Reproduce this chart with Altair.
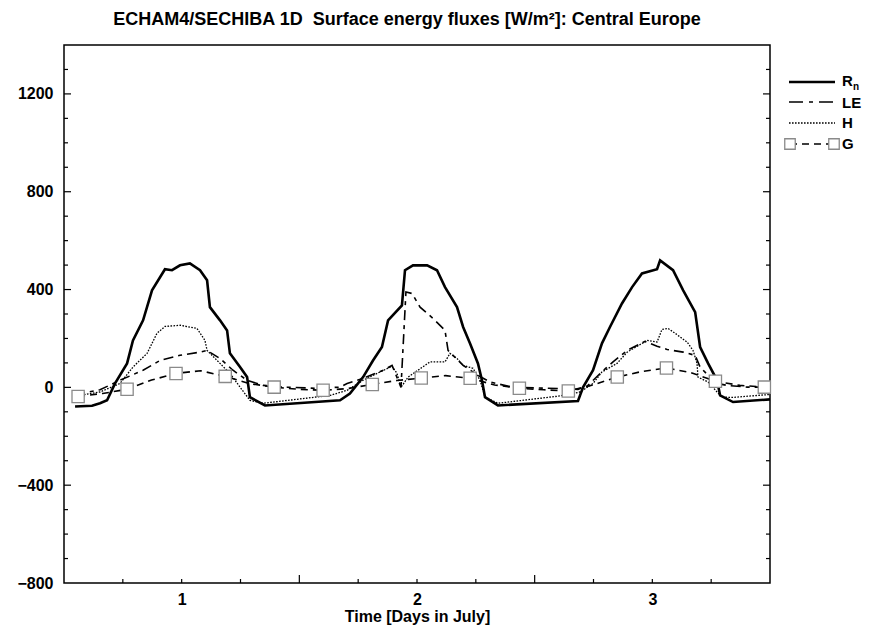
import altair as alt
import pandas as pd

# ---------------- data ----------------
rn_t = [0.547, 0.619, 0.653, 0.683, 0.717, 0.768, 0.793, 0.836, 0.874, 0.929, 0.959, 0.993, 1.035, 1.078,
        1.108, 1.120, 1.163, 1.193, 1.205, 1.248, 1.278, 1.290, 1.354, 1.673, 1.715, 1.771, 1.813, 1.851,
        1.877, 1.936, 1.949, 1.983, 2.043, 2.085, 2.119, 2.170, 2.196, 2.225, 2.259, 2.276, 2.289, 2.344,
        2.684, 2.706, 2.748, 2.786, 2.820, 2.871, 2.914, 2.956, 3.020, 3.033, 3.088, 3.131, 3.182, 3.203,
        3.237, 3.275, 3.288, 3.343, 3.500]
rn_v = [-78, -75, -65, -53, 16, 98, 192, 274, 397, 483, 479, 499, 507, 479,
        438, 328, 274, 233, 139, 83, 42, -40, -74, -53, -25, 42, 110, 165,
        274, 335, 479, 499, 499, 479, 410, 328, 247, 180, 98, 29, -40, -74,
        -56, 1, 70, 180, 247, 343, 410, 466, 483, 519, 479, 397, 308, 165,
        98, 29, -33, -60, -49]

le_t = [0.547, 0.653, 0.738, 0.836, 0.908, 0.993, 1.078, 1.108, 1.163, 1.218, 1.278, 1.346, 1.448, 1.575,
        1.673, 1.703, 1.771, 1.856, 1.894, 1.932, 1.953, 1.979, 2.013, 2.068, 2.119, 2.132, 2.153, 2.196,
        2.259, 2.310, 2.408, 2.608, 2.684, 2.723, 2.778, 2.833, 2.893, 2.969, 3.020, 3.063, 3.131, 3.182,
        3.203, 3.237, 3.275, 3.318, 3.403, 3.500]
le_v = [-30, -10, 29, 70, 110, 131, 144, 151, 118, 70, 29, 8, 1, -4,
        1, 16, 37, 70, 90, 0, 390, 384, 328, 282, 233, 151, 131, 90,
        49, 22, 0, -5, -8, 5, 57, 104, 151, 188, 168, 155, 144, 131,
        83, 49, 16, 8, 1, 1]

h_t = [0.547, 0.653, 0.738, 0.793, 0.853, 0.895, 0.929, 0.993, 1.065, 1.099, 1.108, 1.163, 1.205, 1.248,
       1.290, 1.346, 1.630, 1.703, 1.771, 1.843, 1.894, 1.915, 1.932, 1.962, 2.004, 2.055, 2.119, 2.140,
       2.170, 2.196, 2.238, 2.268, 2.289, 2.344, 2.608, 2.693, 2.748, 2.786, 2.850, 2.893, 2.978, 3.020,
       3.041, 3.067, 3.097, 3.148, 3.173, 3.190, 3.194, 3.237, 3.275, 3.296, 3.343, 3.500]
h_v = [-35, -19, 16, 83, 139, 221, 249, 254, 241, 192, 151, 98, 57, 1,
       -53, -65, -33, -12, 29, 63, 86, 57, 0, 42, 70, 104, 104, 139,
       118, 90, 78, 29, -40, -65, -35, -19, 16, 63, 98, 144, 192, 185,
       237, 241, 221, 185, 151, 98, 42, 22, -19, -40, -41, -29]

g_t = [0.560, 0.664, 0.768, 0.872, 0.976, 1.080, 1.185, 1.289, 1.393, 1.497, 1.601, 1.705, 1.810, 1.914,
       2.018, 2.122, 2.226, 2.330, 2.435, 2.539, 2.643, 2.747, 2.851, 2.955, 3.060, 3.164, 3.268, 3.372, 3.476]
g_v = [-37, -25, -8, 30, 57, 68, 45, 15, 1, -8, -12, -5, 12, 28,
       38, 48, 37, 10, -4, -10, -15, 10, 42, 65, 79, 60, 25, 8, 1]
g_marker = [i % 2 == 0 for i in range(len(g_t))]

y_labels = [-800, -400, 0, 400, 800, 1200]
y_minor = [-700, -600, -500, -300, -200, -100, 100, 200, 300, 500, 600, 700, 900, 1000, 1100, 1300]
y_major = [-400, 0, 400, 800, 1200]
x_labels = [1, 2, 3]
x_minor = [0.75, 1.0, 1.25, 1.75, 2.0, 2.25, 2.75, 3.0, 3.25]
x_major = [1.5, 2.5]

# ---------------- layout constants ----------------
W, H = 706, 538
FONT = "Liberation Sans"

xscale = alt.Scale(domain=[0.5, 3.5], nice=False, zero=False)
yscale = alt.Scale(domain=[-800, 1400], nice=False, zero=False)
xaxis = alt.Axis(values=x_labels, ticks=False, domain=False, grid=False, title="Time [Days in July]",
                 labelFont=FONT, labelFontSize=16, labelFontWeight="bold", labelColor="black",
                 labelPadding=8, titleFont=FONT, titleFontSize=16, titleFontWeight="bold",
                 titleColor="black", titleBaseline="alphabetic", titleY=38, format="d")
yaxis = alt.Axis(values=y_labels, ticks=False, domain=False, grid=False, title=None,
                 labelFont=FONT, labelFontSize=16, labelFontWeight="bold", labelColor="black",
                 labelPadding=11, format="d")


def X():
    return alt.X("t:Q", scale=xscale, axis=xaxis)


def Y():
    return alt.Y("v:Q", scale=yscale, axis=yaxis)


df_rn = pd.DataFrame({"t": rn_t, "v": rn_v})
df_le = pd.DataFrame({"t": le_t, "v": le_v})
df_h = pd.DataFrame({"t": h_t, "v": h_v})
df_g = pd.DataFrame({"t": g_t, "v": g_v, "m": g_marker})

rn_line = alt.Chart(df_rn).mark_line(color="black", strokeWidth=2.6).encode(x=X(), y=Y())
le_line = alt.Chart(df_le).mark_line(color="black", strokeWidth=1.6, strokeDash=[10, 5, 4, 5]).encode(x=X(), y=Y())
h_line = alt.Chart(df_h).mark_line(color="black", strokeWidth=1.3, strokeDash=[1.6, 1.4]).encode(x=X(), y=Y())
g_line = alt.Chart(df_g).mark_line(color="black", strokeWidth=1.6, strokeDash=[7, 5]).encode(x=X(), y=Y())
g_pts = alt.Chart(df_g).transform_filter("datum.m").mark_square(
    size=150, filled=True, fill="white", stroke="#8a8a8a", strokeWidth=1.3, opacity=1
).encode(x=X(), y=Y())

# inward ticks
dym = pd.DataFrame({"v": y_minor})
dyM = pd.DataFrame({"v": y_major})
dxm = pd.DataFrame({"t": x_minor})
dxM = pd.DataFrame({"t": x_major})
tk = dict(color="black", strokeWidth=1.2)
yl_min = alt.Chart(dym).mark_rule(**tk).encode(y=Y(), x=alt.value(0), x2=alt.value(4))
yl_maj = alt.Chart(dyM).mark_rule(**tk).encode(y=Y(), x=alt.value(0), x2=alt.value(7))
yr_min = alt.Chart(dym).mark_rule(**tk).encode(y=Y(), x=alt.value(W - 4), x2=alt.value(W))
yr_maj = alt.Chart(dyM).mark_rule(**tk).encode(y=Y(), x=alt.value(W - 7), x2=alt.value(W))
xb_min = alt.Chart(dxm).mark_rule(**tk).encode(x=X(), y=alt.value(H - 4), y2=alt.value(H))
xb_maj = alt.Chart(dxM).mark_rule(**tk).encode(x=X(), y=alt.value(H - 8), y2=alt.value(H))

# legend (drawn to the right of the plot)
one = pd.DataFrame({"a": [0]})
LX0, LX1, TX = 725, 771, 778
leg_rn = alt.Chart(one).mark_rule(color="black", strokeWidth=2.6).encode(
    x=alt.value(LX0), x2=alt.value(LX1), y=alt.value(37))
leg_le = alt.Chart(one).mark_rule(color="black", strokeWidth=1.6, strokeDash=[14, 6, 4, 6]).encode(
    x=alt.value(LX0), x2=alt.value(LX1), y=alt.value(57))
leg_h = alt.Chart(one).mark_rule(color="black", strokeWidth=1.3, strokeDash=[1.6, 1.4]).encode(
    x=alt.value(LX0), x2=alt.value(LX1), y=alt.value(78))
leg_g = alt.Chart(one).mark_rule(color="black", strokeWidth=1.6, strokeDash=[7, 5]).encode(
    x=alt.value(LX0 + 1), x2=alt.value(LX1 - 1), y=alt.value(99))
leg_g1 = alt.Chart(one).mark_square(size=110, filled=True, fill="white", stroke="#8a8a8a",
                                    strokeWidth=1.3, opacity=1).encode(x=alt.value(LX0 + 1), y=alt.value(99))
leg_g2 = alt.Chart(one).mark_square(size=110, filled=True, fill="white", stroke="#8a8a8a",
                                    strokeWidth=1.3, opacity=1).encode(x=alt.value(LX1 - 1), y=alt.value(99))
txt = dict(font=FONT, fontSize=15, fontWeight="bold", color="black", align="left", baseline="middle")
leg_t_r = alt.Chart(one).mark_text(text="R", **txt).encode(x=alt.value(TX), y=alt.value(36))
leg_t_n = alt.Chart(one).mark_text(text="n", font=FONT, fontSize=10, fontWeight="bold", color="black",
                                   align="left", baseline="middle").encode(x=alt.value(TX + 11), y=alt.value(42))
leg_t_le = alt.Chart(one).mark_text(text="LE", **txt).encode(x=alt.value(TX), y=alt.value(58))
leg_t_h = alt.Chart(one).mark_text(text="H", **txt).encode(x=alt.value(TX), y=alt.value(78))
leg_t_g = alt.Chart(one).mark_text(text="G", **txt).encode(x=alt.value(TX), y=alt.value(99))

chart = alt.layer(
    yl_min, yl_maj, yr_min, yr_maj, xb_min, xb_maj,
    h_line, le_line, g_line, rn_line, g_pts,
    leg_rn, leg_le, leg_h, leg_g, leg_g1, leg_g2,
    leg_t_r, leg_t_n, leg_t_le, leg_t_h, leg_t_g,
).properties(
    width=W, height=H,
    title=alt.TitleParams("ECHAM4/SECHIBA 1D\u00a0\u00a0Surface energy fluxes [W/m²]: Central Europe",
                          font=FONT, fontSize=18, fontWeight="bold", color="black",
                          anchor="middle", dx=-10, offset=16),
    padding={"left": 56, "top": 37, "right": 93, "bottom": 43},
    autosize=alt.AutoSizeParams(type="none"),
).configure(background="white").configure_view(stroke="black", strokeWidth=1.5)

chart.save("out.html", embed_options={"renderer": "svg", "actions": False})
